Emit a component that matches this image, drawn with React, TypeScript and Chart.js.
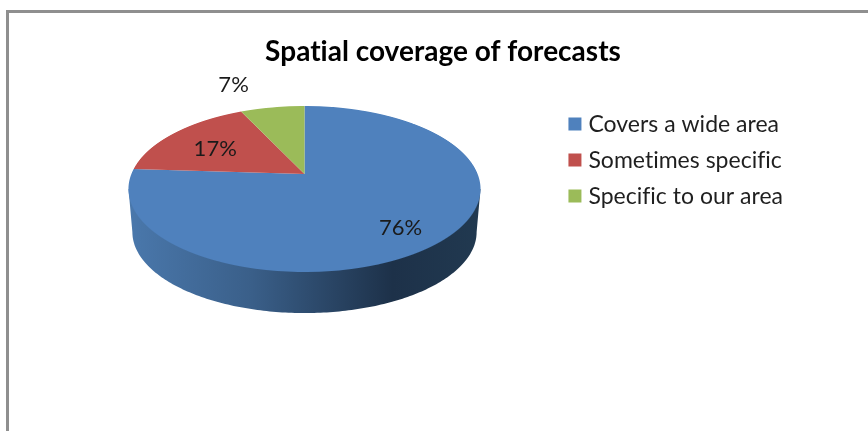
import { useEffect, useRef } from "react";
import { Chart, registerables } from "chart.js";

Chart.register(...registerables);

const chartTitle = "Spatial coverage of forecasts";
const categories = ["Covers a wide area", "Sometimes specific", "Specific to our area"];
const shares = [76, 17, 7];
const sliceColors = ["#4F81BD", "#C0504D", "#9BBB59"];

const FONT = "Lato, Carlito, Calibri, sans-serif";
const CANVAS_W = 868;
const CANVAS_H = 418;

// Tilted-disc view of the pie: the arcs are laid out flat by Chart.js and then
// redrawn row by row through a perspective mapping around their common apex.
const view = {
  apexX: 295.5,
  apexY: 161,
  halfWidth: 173.1,
  depthScale: 80.3,
  tilt: 0.1807,
  wallDrop: 43.4,
  wallShrinkX: 0.978,
  wallShrinkY: 0.976,
};

// Where each percentage sits, as a fraction of the radius along the slice's mid-angle.
const labelPlacement = [
  { radius: 0.76, dx: -4, dy: 4 },
  { radius: 0.65, dx: -2, dy: 2 },
  { radius: 1.3, dx: -31, dy: -6 },
];

const project = (u: number, v: number) => {
  const w = 1 + view.tilt * v;
  return {
    x: view.apexX + (view.halfWidth * u) / w,
    y: view.apexY - (view.depthScale * v) / w,
  };
};

const lowerRim = (u: number, v: number) => {
  const p = project(u, v);
  return {
    x: view.apexX + (p.x - view.apexX) * view.wallShrinkX,
    y: view.apexY + (p.y - view.apexY) * view.wallShrinkY + view.wallDrop,
  };
};

function drawWall(ctx: CanvasRenderingContext2D) {
  const widest = Math.sqrt(1 - view.tilt * view.tilt);
  const left = project(-widest, -view.tilt);
  const right = project(widest, -view.tilt);
  const start = Math.atan2(-view.tilt, -widest);
  const end = Math.atan2(-view.tilt, widest);
  const sweep = end - start < 0 ? end - start + Math.PI * 2 : end - start;

  const shade = ctx.createLinearGradient(left.x, 0, right.x, 0);
  shade.addColorStop(0, "#4A78AC");
  shade.addColorStop(0.35, "#3A5F89");
  shade.addColorStop(0.75, "#1D3149");
  shade.addColorStop(1, "#213950");

  ctx.beginPath();
  ctx.moveTo(left.x, left.y);
  for (let i = 0; i <= 180; i++) {
    const a = start + (sweep * i) / 180;
    const p = lowerRim(Math.cos(a), Math.sin(a));
    ctx.lineTo(p.x, p.y);
  }
  ctx.lineTo(right.x, right.y);
  ctx.closePath();
  ctx.fillStyle = shade;
  ctx.fill();
}

const perspectivePie = {
  id: "perspectivePie",
  // A tiny letter spacing keeps "fi" as two separate glyphs in every label.
  beforeUpdate(chart: any) {
    chart.ctx.letterSpacing = "0.01px";
  },
  beforeDatasetsDraw(chart: any) {
    const { ctx } = chart;
    const arcs = chart.getDatasetMeta(0).data;
    const { x: cx, y: cy, outerRadius: R } = arcs[0];

    drawWall(ctx);

    const top = Math.floor(project(0, 1).y);
    const bottom = Math.ceil(project(0, -1).y);
    for (let row = top; row < bottom; row++) {
      const d = row + 0.5 - view.apexY;
      const denom = view.depthScale + view.tilt * d;
      const v = -d / denom;
      const sx = view.halfWidth / R / (1 + view.tilt * v);
      const sy = (denom * denom) / (R * view.depthScale);
      const srcY = cy - R * v;
      ctx.save();
      ctx.beginPath();
      ctx.rect(0, row, chart.width, 1);
      ctx.clip();
      ctx.transform(sx, 0, 0, sy, view.apexX - sx * cx, row + 0.5 - sy * srcY);
      arcs.forEach((arc: any) => arc.draw(ctx));
      ctx.restore();
    }

    ctx.save();
    ctx.font = `22px ${FONT}`;
    ctx.fillStyle = "#1a1a1a";
    ctx.textAlign = "center";
    ctx.textBaseline = "middle";
    arcs.forEach((arc: any, i: number) => {
      const mid = (arc.startAngle + arc.endAngle) / 2;
      const place = labelPlacement[i];
      const p = project(Math.cos(mid) * place.radius, -Math.sin(mid) * place.radius);
      ctx.fillText(`${shares[i]}%`, p.x + place.dx, p.y + place.dy);
    });
    ctx.restore();
    return false;
  },
};

export default function App() {
  const canvasRef = useRef<HTMLCanvasElement>(null);

  useEffect(() => {
    const chart = new Chart(canvasRef.current as HTMLCanvasElement, {
      type: "pie",
      data: {
        labels: categories,
        datasets: [{ data: shares, backgroundColor: sliceColors, borderWidth: 0 }],
      },
      plugins: [perspectivePie],
      options: {
        responsive: false,
        animation: false,
        events: [],
        layout: { padding: { left: 84, right: 84, top: 0, bottom: 0 } },
        plugins: {
          tooltip: { enabled: false },
          title: {
            display: true,
            text: chartTitle,
            color: "#000000",
            font: { family: FONT, size: 28, weight: "bold" },
            padding: { top: 22, bottom: 31 },
          },
          legend: {
            position: "right",
            align: "start",
            fullSize: false,
            labels: {
              color: "#1f1f1f",
              font: { family: FONT, size: 23 },
              padding: 13,
              boxWidth: 4,
              boxHeight: 4,
              // A thick same-coloured outline keeps the swatch square close to its text.
              generateLabels(c: any) {
                return Chart.overrides.pie.plugins.legend.labels
                  .generateLabels(c)
                  .map((item: any, i: number) => ({
                    ...item,
                    lineWidth: 9,
                    strokeStyle: sliceColors[i],
                  }));
              },
            },
          },
        },
      },
    } as any);
    return () => chart.destroy();
  }, []);

  return (
    <div style={{ position: "fixed", inset: 0, overflow: "hidden", background: "#fff" }}>
      <div
        style={{
          position: "absolute",
          left: 6,
          top: 10,
          width: 1000,
          height: 600,
          border: "3px solid #8f8f8f",
          boxSizing: "content-box",
        }}
      >
        <canvas ref={canvasRef} width={CANVAS_W} height={CANVAS_H} style={{ display: "block" }} />
      </div>
    </div>
  );
}
